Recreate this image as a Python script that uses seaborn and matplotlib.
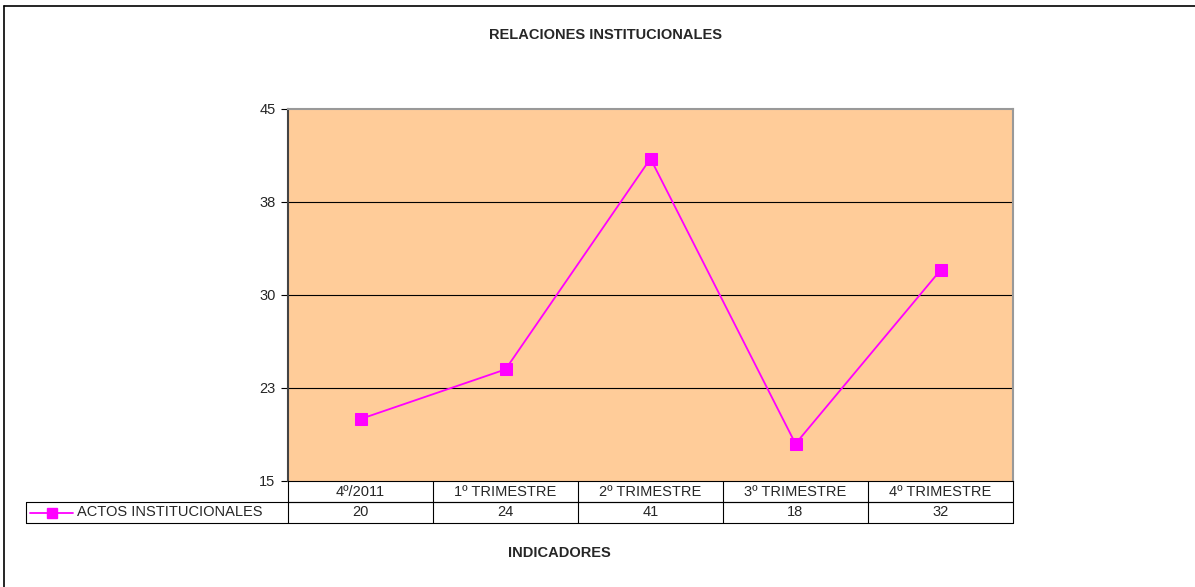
import matplotlib
matplotlib.use('Agg')
import matplotlib.pyplot as plt
import seaborn as sns
import pandas as pd
from matplotlib.lines import Line2D

categories = ['4º/2011', '1º TRIMESTRE', '2º TRIMESTRE', '3º TRIMESTRE', '4º TRIMESTRE']
actos = [20, 24, 41, 18, 32]
series_name = 'ACTOS INSTITUCIONALES'
y_ticks = [15, 22.5, 30, 37.5, 45]
y_labels = ['15', '23', '30', '38', '45']

df = pd.DataFrame({'pos': [i + 0.5 for i in range(len(categories))], 'valor': actos})

sns.set_style('white')
plt.rcParams['font.family'] = ['Liberation Sans', 'DejaVu Sans']

W, H = 1195, 587
FS = 10.5
fig = plt.figure(figsize=(W / 100, H / 100), dpi=100)
ax = fig.add_axes([288 / W, 1 - 481 / H, (1013 - 288) / W, (481 - 109) / H])
ax.set_facecolor('#FFCC99')

sns.lineplot(data=df, x='pos', y='valor', ax=ax, color='#FF00FF', lw=1.3,
             marker='s', markersize=8, markeredgecolor='#FF00FF', zorder=3)

ax.set_xlim(0, len(categories))
ax.set_ylim(15, 45)
ax.set_yticks(y_ticks)
ax.set_yticklabels(y_labels, fontsize=FS)
ax.set_xticks([])
ax.set_xlabel('')
ax.set_ylabel('')
ax.tick_params(axis='y', length=5, width=0.8, color='black', pad=4, left=True)
for yv in y_ticks[1:-1]:
    ax.axhline(yv, color='black', lw=0.8, zorder=1)
for s in ['top', 'right']:
    ax.spines[s].set_color('#999999')
    ax.spines[s].set_linewidth(1.5)
ax.spines['left'].set_color('#444444')
ax.spines['left'].set_linewidth(1.5)
ax.spines['bottom'].set_color('black')
ax.spines['bottom'].set_linewidth(0.8)

# data table below the plot area
rh = 21 / (481 - 109)
leg_left = (26 - 288) / (1013 - 288)
n = len(categories)
tk = dict(transform=ax.transAxes, color='black', lw=0.8, clip_on=False)
ax.add_line(Line2D([0, 1], [-rh, -rh], **tk))
ax.add_line(Line2D([leg_left, 1], [-rh, -rh], **tk))
ax.add_line(Line2D([leg_left, 1], [-2 * rh, -2 * rh], **tk))
ax.add_line(Line2D([leg_left, leg_left], [-rh, -2 * rh], **tk))
for i in range(n + 1):
    ax.add_line(Line2D([i / n, i / n], [0, -2 * rh], **tk))
for i, (cat, v) in enumerate(zip(categories, actos)):
    ax.text((i + 0.5) / n, -0.5 * rh, cat, transform=ax.transAxes,
            ha='center', va='center', fontsize=FS)
    ax.text((i + 0.5) / n, -1.5 * rh, str(v), transform=ax.transAxes,
            ha='center', va='center', fontsize=FS)

# legend key inside the table
lx0 = (30 - 288) / (1013 - 288)
lx1 = (73 - 288) / (1013 - 288)
ax.add_line(Line2D([lx0, lx1], [-1.5 * rh, -1.5 * rh], transform=ax.transAxes,
                   color='#FF00FF', lw=1.3, clip_on=False))
ax.add_line(Line2D([(lx0 + lx1) / 2], [-1.5 * rh], transform=ax.transAxes,
                   color='#FF00FF', marker='s', markersize=7, clip_on=False))
ax.text((77 - 288) / (1013 - 288), -1.5 * rh, series_name, transform=ax.transAxes,
        ha='left', va='center', fontsize=FS)

fig.text(606 / W, 1 - 35 / H, 'RELACIONES INSTITUCIONALES', ha='center', va='center',
         fontsize=FS, fontweight='bold')
fig.text(559 / W, 1 - 553 / H, 'INDICADORES', ha='center', va='center',
         fontsize=FS, fontweight='bold')

# chart border
fig.add_artist(Line2D([4 / W, 4 / W], [0, 1 - 6 / H], transform=fig.transFigure, color='black', lw=1.2))
fig.add_artist(Line2D([4 / W, 1], [1 - 6 / H, 1 - 6 / H], transform=fig.transFigure, color='black', lw=1.2))

fig.savefig('out.png', dpi=100)
